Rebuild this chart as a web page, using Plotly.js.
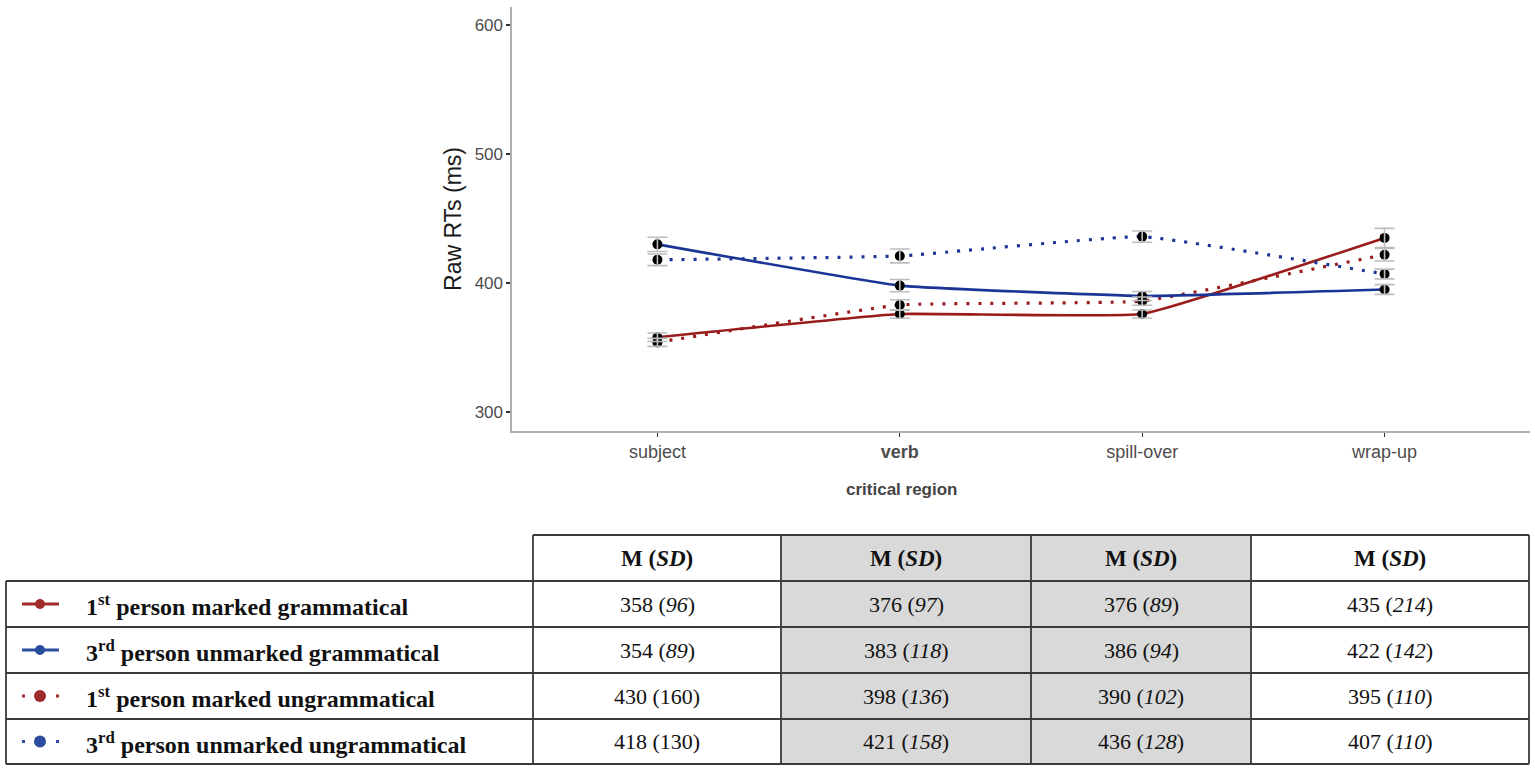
<!DOCTYPE html>
<html>
<head>
<meta charset="utf-8">
<script src="https://cdn.plot.ly/plotly-3.0.1.min.js"></script>
<style>
html,body{margin:0;padding:0;background:#fff;}
#chart{width:1535px;height:771px;}
</style>
</head>
<body>
<div id="chart"></div>
<script>
// ---------- data ----------
const regions = ['subject', 'verb', 'spill-over', 'wrap-up'];
const regionTickText = ['subject', '<b>verb</b>', 'spill-over', 'wrap-up'];

// lines as plotted in the chart
const redSolid   = [358, 376, 376, 435];
const redSolidErr = [3.3, 3.3, 3.1, 7.4];
const redDotted  = [354, 383, 386, 422];
const redDottedErr = [3.1, 4.1, 3.2, 4.9];
const blueSolid  = [430, 398, 390, 395];
const blueSolidErr = [5.5, 4.7, 3.5, 3.8];
const blueDotted = [418, 421, 436, 407];
const blueDottedErr = [4.5, 5.4, 4.4, 3.8];

const yTicks = [300, 400, 500, 600];

// table
const tableHeader = ['M (<i>SD</i>)', 'M (<i>SD</i>)', 'M (<i>SD</i>)', 'M (<i>SD</i>)'];
const rowLabels = [
  '1<sup>st</sup> person marked grammatical',
  '3<sup>rd</sup> person unmarked grammatical',
  '1<sup>st</sup> person marked ungrammatical',
  '3<sup>rd</sup> person unmarked ungrammatical'
];
const rowColors = ['#a02a2a', '#2b4c9f', '#a02a2a', '#2b4c9f'];
const rowDotted = [false, false, true, true];
const tableM = [
  [358, 376, 376, 435],
  [354, 383, 386, 422],
  [430, 398, 390, 395],
  [418, 421, 436, 407]
];
const tableSD = [
  [96, 97, 89, 214],
  [89, 118, 94, 142],
  [160, 136, 102, 110],
  [130, 158, 128, 110]
];
const sdItalic = [
  [true, true, true, true],
  [true, true, true, true],
  [false, true, true, true],
  [false, true, true, true]
];

// ---------- styling / geometry ----------
const W = 1535, H = 771;
const RED = '#991b1b', BLUE = '#1b3596';
const px = v => v / W;
const py = v => 1 - v / H;

function lineTrace(y, color, dotted) {
  return {
    x: regions, y: y, type: 'scatter', mode: 'lines+markers',
    line: {color: color, width: dotted ? 3.2 : 2.6, dash: dotted ? '3px,9px' : 'solid', shape: 'spline', smoothing: 0.3},
    marker: {color: '#000', size: 10},
    showlegend: false, hoverinfo: 'skip'
  };
}
function errTrace(y, e) {
  return {
    x: regions, y: y, type: 'scatter', mode: 'markers',
    marker: {color: 'rgba(0,0,0,0)', size: 1},
    error_y: {type: 'data', array: e, visible: true, color: '#bdbdbd', thickness: 1.6, width: 10},
    showlegend: false, hoverinfo: 'skip'
  };
}

const data = [
  lineTrace(redSolid, RED, false),
  lineTrace(redDotted, RED, true),
  lineTrace(blueSolid, BLUE, false),
  lineTrace(blueDotted, BLUE, true),
  errTrace(redSolid, redSolidErr),
  errTrace(redDotted, redDottedErr),
  errTrace(blueSolid, blueSolidErr),
  errTrace(blueDotted, blueDottedErr)
];

// ---------- table (shapes + annotations) ----------
const colX = [533, 781, 1031, 1251, 1529];
const rowY = [535, 581, 627, 673, 719, 764];
const leftX = 6;
const BORDER = '#3a3a3a';
const shapes = [];
const annotations = [];

shapes.push({type: 'rect', xref: 'paper', yref: 'paper', x0: px(colX[1]), x1: px(colX[3]), y0: py(rowY[0]), y1: py(rowY[5]), fillcolor: '#d9d9d9', line: {width: 0}, layer: 'below'});

function hline(y, x0, x1) {
  shapes.push({type: 'line', xref: 'paper', yref: 'paper', x0: px(x0), x1: px(x1), y0: py(y), y1: py(y), line: {color: BORDER, width: 1.8}});
}
function vline(x, y0, y1) {
  shapes.push({type: 'line', xref: 'paper', yref: 'paper', x0: px(x), x1: px(x), y0: py(y0), y1: py(y1), line: {color: BORDER, width: 1.8}});
}
hline(rowY[0], colX[0], colX[4]);
for (let r = 1; r < rowY.length; r++) hline(rowY[r], leftX, colX[4]);
vline(leftX, rowY[1], rowY[5]);
colX.forEach(x => vline(x, rowY[0], rowY[5]));

const serif = '"Liberation Serif", "Times New Roman", serif';
const centers = colX.slice(0, 4).map((x, i) => (x + colX[i + 1]) / 2);

tableHeader.forEach((t, i) => {
  annotations.push({xref: 'paper', yref: 'paper', x: px(centers[i]), y: py((rowY[0] + rowY[1]) / 2), text: '<b>' + t + '</b>', showarrow: false, xanchor: 'center', yanchor: 'middle', font: {family: serif, size: 23, color: '#111'}});
});

rowLabels.forEach((lab, r) => {
  const cy = (rowY[r + 1] + rowY[r + 2]) / 2;
  annotations.push({xref: 'paper', yref: 'paper', x: px(84), y: py(cy + 1), text: '<b>' + lab + '</b>', showarrow: false, xanchor: 'left', yanchor: 'middle', font: {family: serif, size: 24, color: '#111'}});
  const col = rowColors[r];
  if (!rowDotted[r]) {
    shapes.push({type: 'line', xref: 'paper', yref: 'paper', x0: px(22), x1: px(59), y0: py(cy), y1: py(cy), line: {color: col, width: 3}});
    shapes.push({type: 'circle', xref: 'paper', yref: 'paper', x0: px(35), x1: px(45), y0: py(cy - 5), y1: py(cy + 5), fillcolor: col, line: {color: col, width: 0}});
  } else {
    shapes.push({type: 'rect', xref: 'paper', yref: 'paper', x0: px(22), x1: px(25), y0: py(cy - 1.5), y1: py(cy + 1.5), fillcolor: col, line: {width: 0}});
    shapes.push({type: 'rect', xref: 'paper', yref: 'paper', x0: px(56), x1: px(59), y0: py(cy - 1.5), y1: py(cy + 1.5), fillcolor: col, line: {width: 0}});
    shapes.push({type: 'circle', xref: 'paper', yref: 'paper', x0: px(34), x1: px(46), y0: py(cy - 6), y1: py(cy + 6), fillcolor: col, line: {color: col, width: 0}});
  }
  for (let c = 0; c < 4; c++) {
    const sd = sdItalic[r][c] ? '<i>' + tableSD[r][c] + '</i>' : String(tableSD[r][c]);
    annotations.push({xref: 'paper', yref: 'paper', x: px(centers[c]), y: py(cy), text: tableM[r][c] + ' (' + sd + ')', showarrow: false, xanchor: 'center', yanchor: 'middle', font: {family: serif, size: 22, color: '#111'}});
  }
});

const sans = '"Liberation Sans", Arial, sans-serif';
// x-axis title as annotation (placed as in the reference)
annotations.push({xref: 'paper', yref: 'paper', x: px(901), y: py(490), text: '<b>critical region</b>', showarrow: false, xanchor: 'center', yanchor: 'middle', font: {family: sans, size: 17, color: '#444'}});

const layout = {
  width: W, height: H,
  margin: {l: 0, r: 0, t: 0, b: 0},
  paper_bgcolor: '#fff', plot_bgcolor: '#fff',
  showlegend: false,
  xaxis: {
    domain: [px(512), px(1530)],
    type: 'category', categoryorder: 'array', categoryarray: regions,
    range: [-0.6, 3.6],
    tickmode: 'array', tickvals: regions, ticktext: regionTickText,
    showline: true, linecolor: '#b0b0b0', linewidth: 1.6,
    ticks: 'outside', ticklen: 4, tickcolor: '#333', tickwidth: 1.2,
    showgrid: false, zeroline: false,
    tickfont: {family: sans, size: 18, color: '#4d4d4d'}
  },
  yaxis: {
    domain: [py(431), py(7)],
    range: [285.3, 614],
    tickmode: 'array', tickvals: yTicks,
    showline: true, linecolor: '#b0b0b0', linewidth: 1.6,
    ticks: 'outside', ticklen: 4, tickcolor: '#333', tickwidth: 1.2,
    showgrid: false, zeroline: false,
    tickfont: {family: sans, size: 17, color: '#4d4d4d'},
    title: {text: 'Raw RTs (ms)', font: {family: sans, size: 23, color: '#1a1a1a'}, standoff: 6}
  },
  shapes: shapes,
  annotations: annotations
};

Plotly.newPlot('chart', data, layout, {displayModeBar: false, staticPlot: true});
</script>
</body>
</html>
